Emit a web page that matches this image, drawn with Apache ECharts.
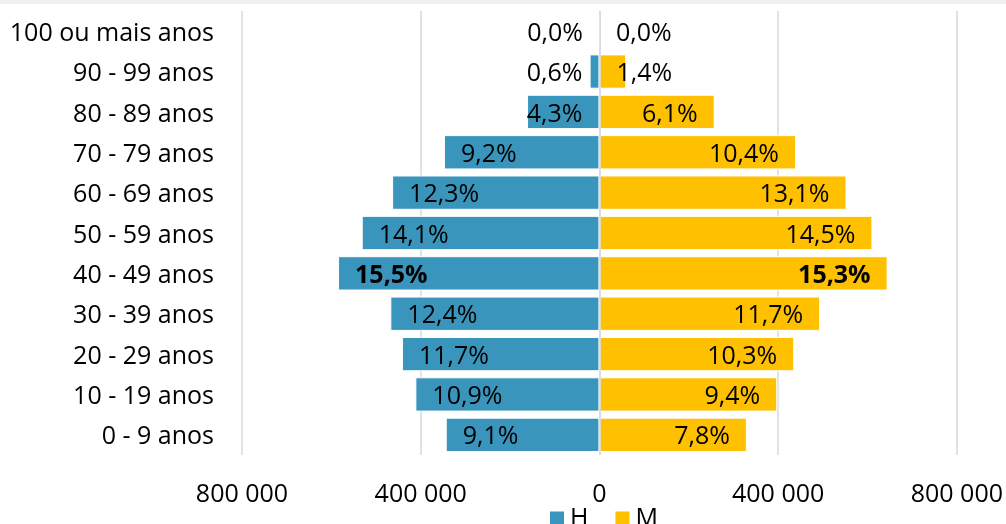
<!DOCTYPE html>
<html>
<head>
<meta charset="utf-8">
<script src="https://cdn.jsdelivr.net/npm/echarts@6/dist/echarts.min.js"></script>
<style>html,body{margin:0;padding:0;background:#fff;}#c{width:1006px;height:524px;}</style>
</head>
<body>
<div id="c"></div>
<script>
const categories = ['0 - 9 anos','10 - 19 anos','20 - 29 anos','30 - 39 anos','40 - 49 anos','50 - 59 anos','60 - 69 anos','70 - 79 anos','80 - 89 anos','90 - 99 anos','100 ou mais anos'];
const homens = [344000, 412000, 442000, 468000, 585000, 532000, 464000, 348000, 162000, 22000, 0];
const mulheres = [330000, 398000, 436000, 494000, 645000, 611000, 553000, 440000, 258000, 60000, 0];
const homensPct = ['9,1%','10,9%','11,7%','12,4%','15,5%','14,1%','12,3%','9,2%','4,3%','0,6%','0,0%'];
const mulheresPct = ['7,8%','9,4%','10,3%','11,7%','15,3%','14,5%','13,1%','10,4%','6,1%','1,4%','0,0%'];
const boldIndex = 4;
const xTicks = [-800000, -400000, 0, 400000, 800000];

const FONT = 'Open Sans';
const FS = 25;
const BLUE = '#3A95BD';
const YELLOW = '#FFC000';
const SMALL = 220000;

function fmt(v){ return Math.abs(v).toString().replace(/\B(?=(\d{3})+(?!\d))/g, ' '); }

function items(vals, sign){
  return vals.map((v, i) => {
    const small = v < SMALL;
    let pos;
    if (sign < 0) pos = small ? 'insideRight' : 'insideLeft';
    else pos = small ? 'insideLeft' : 'insideRight';
    return {
      value: sign * v,
      label: { position: pos, fontWeight: i === boldIndex ? 'bold' : 'normal' }
    };
  });
}

const chart = echarts.init(document.getElementById('c'), null, {renderer: 'canvas'});
chart.setOption({
  animation: false,
  backgroundColor: '#fff',
  textStyle: { fontFamily: FONT },
  graphic: [{ type: 'rect', left: 0, top: 0, shape: { width: 1006, height: 4 }, style: { fill: '#F0F0F0' }, silent: true }],
  grid: { left: 242, right: 48, top: 11, bottom: 69, containLabel: false },
  legend: {
    data: ['H', 'M'], left: 548, top: 506, padding: 0,
    icon: 'rect', itemWidth: 16, itemHeight: 16, itemGap: 25,
    textStyle: { fontFamily: FONT, fontSize: FS, color: '#000' }
  },
  xAxis: {
    type: 'value', min: xTicks[0], max: xTicks[xTicks.length - 1], interval: 400000,
    axisLine: { show: false }, axisTick: { show: false },
    splitLine: { show: true, lineStyle: { color: '#D9D9D9', width: 1.5 } },
    axisLabel: { formatter: fmt, fontFamily: FONT, fontSize: FS, color: '#000', margin: 27 }
  },
  yAxis: {
    type: 'category', data: categories,
    axisLine: { show: false }, axisTick: { show: false },
    axisLabel: { fontFamily: FONT, fontSize: FS, color: '#000', margin: 28, verticalAlign: 'top', lineHeight: 5 }
  },
  series: [
    {
      name: 'H', type: 'bar', data: items(homens, -1),
      barGap: '-100%', barCategoryGap: '15%',
      itemStyle: { color: BLUE, borderColor: '#fff', borderWidth: 1 },
      label: { show: true, distance: 17, fontFamily: FONT, fontSize: FS, color: '#000', verticalAlign: 'top', lineHeight: 5,
        formatter: p => homensPct[p.dataIndex] },
      markLine: { silent: true, symbol: 'none', label: { show: false },
        lineStyle: { color: '#D9D9D9', width: 1.5, type: 'solid' }, data: [{ xAxis: 0 }] }
    },
    {
      name: 'M', type: 'bar', data: items(mulheres, 1),
      barGap: '-100%', barCategoryGap: '15%',
      itemStyle: { color: YELLOW, borderColor: '#fff', borderWidth: 1 },
      label: { show: true, distance: 17, fontFamily: FONT, fontSize: FS, color: '#000', verticalAlign: 'top', lineHeight: 5,
        formatter: p => mulheresPct[p.dataIndex] }
    }
  ]
});
</script>
</body>
</html>
